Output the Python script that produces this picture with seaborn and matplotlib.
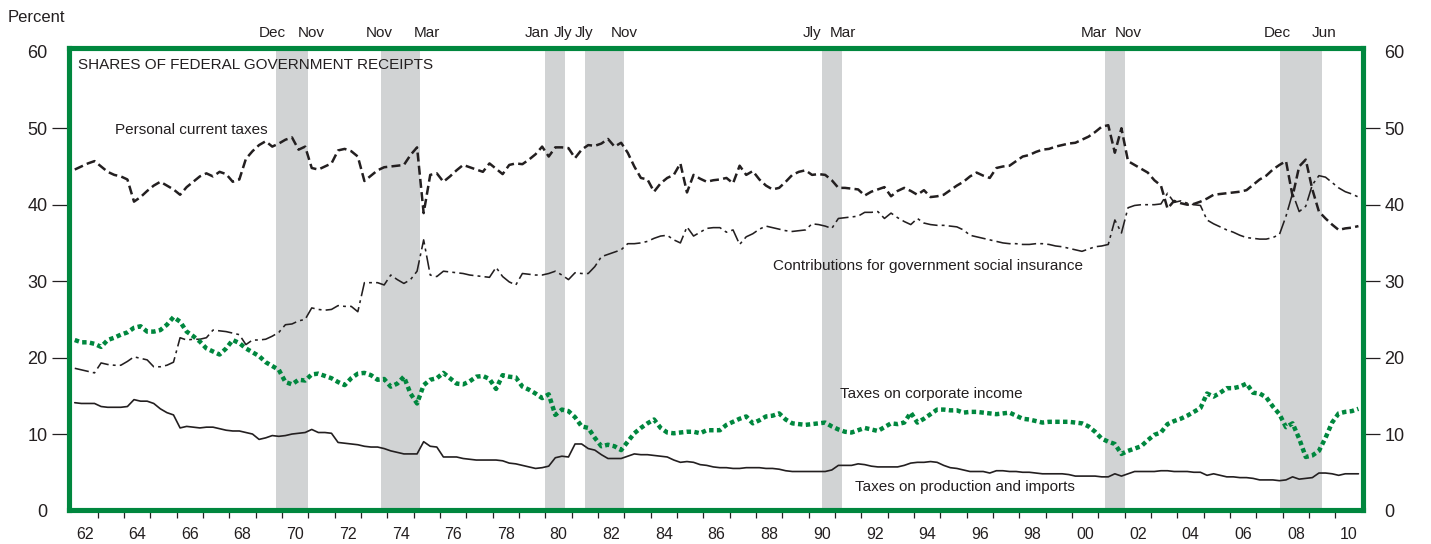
import numpy as np
import pandas as pd
import matplotlib
matplotlib.use("Agg")
import matplotlib.pyplot as plt
import matplotlib.transforms as mtransforms
import seaborn as sns

# ---------------- data (quarterly, 1962Q1 - 2010Q4, percent) ----------------
personal = [
    44.6, 45.0, 45.4, 45.7,  45.0, 44.3, 43.9, 43.7,   # 62, 63
    43.3, 40.4, 41.0, 41.8,  42.5, 43.0, 42.5, 42.0,   # 64, 65
    41.3, 42.3, 43.0, 43.7,  44.1, 43.7, 44.3, 44.0,   # 66, 67
    43.0, 43.3, 46.0, 47.0,  47.8, 48.3, 47.6, 48.0,   # 68, 69
    48.5, 48.8, 47.2, 47.6,  44.8, 44.6, 45.0, 45.4,   # 70, 71
    47.1, 47.3, 47.0, 46.3,  43.1, 43.8, 44.5, 44.9,   # 72, 73
    45.0, 45.1, 45.2, 46.5,  47.5, 38.9, 43.9, 44.1,   # 74, 75
    43.0, 43.7, 44.5, 45.2,  44.9, 44.6, 44.3, 45.4,   # 76, 77
    44.7, 44.0, 45.2, 45.4,  45.3, 45.9, 46.6, 47.6,   # 78, 79
    46.3, 47.5, 47.5, 47.4,  46.1, 47.2, 47.8, 47.7,   # 80, 81
    48.0, 48.6, 47.6, 48.1,  46.8, 45.0, 43.5, 43.3,   # 82, 83
    41.7, 42.8, 43.5, 43.9,  45.4, 41.6, 43.9, 43.4,   # 84, 85
    43.0, 43.2, 43.3, 43.5,  42.8, 45.1, 43.9, 44.4,   # 86, 87
    43.3, 42.5, 42.0, 42.2,  43.0, 43.9, 44.3, 44.5,   # 88, 89
    43.9, 44.0, 43.9, 43.2,  42.2, 42.2, 42.1, 42.0,   # 90, 91
    41.2, 41.7, 42.0, 42.3,  41.1, 41.8, 42.2, 41.8,   # 92, 93
    41.3, 41.9, 41.0, 41.1,  41.3, 41.9, 42.5, 43.0,   # 94, 95
    43.7, 44.2, 43.8, 43.5,  44.8, 45.0, 45.1, 45.7,   # 96, 97
    46.3, 46.5, 46.9, 47.2,  47.3, 47.6, 47.8, 48.0,   # 98, 99
    48.1, 48.5, 48.9, 49.5,  50.2, 50.4, 46.8, 50.0,   # 00, 01
    45.7, 45.2, 44.7, 44.2,  43.2, 42.5, 39.5, 40.5,   # 02, 03
    40.2, 40.0, 40.1, 40.4,  40.8, 41.3, 41.4, 41.5,   # 04, 05
    41.6, 41.7, 41.9, 42.6,  43.3, 43.8, 44.6, 45.2,   # 06, 07
    45.7, 41.1, 45.0, 45.9,  42.0, 39.1, 38.2, 37.4,   # 08, 09
    36.7, 36.9, 37.0, 37.2,                            # 10
]

social_insurance = [
    18.6, 18.4, 18.2, 18.0,  19.3, 19.1, 19.0, 19.0,
    19.5, 20.1, 19.9, 19.7,  18.8, 18.8, 19.0, 19.4,
    22.6, 22.3, 22.4, 22.4,  22.6, 23.6, 23.5, 23.4,
    23.2, 23.0, 21.7, 22.3,  22.3, 22.4, 22.8, 23.3,
    24.3, 24.4, 24.8, 25.0,  26.5, 26.3, 26.2, 26.3,
    26.8, 26.7, 26.7, 26.0,  29.8, 29.8, 29.8, 29.5,
    30.8, 30.2, 29.7, 30.2,  31.3, 35.4, 30.8, 30.6,
    31.3, 31.2, 31.1, 31.0,  30.8, 30.7, 30.6, 30.5,
    31.8, 30.6, 29.9, 29.5,  31.0, 30.9, 30.8, 30.8,
    31.0, 31.3, 30.8, 30.2,  31.1, 31.0, 31.0, 31.9,
    33.2, 33.5, 33.8, 34.1,  34.9, 34.9, 35.0, 35.2,
    35.6, 35.9, 36.0, 35.4,  35.0, 37.1, 35.9, 36.4,
    36.9, 37.0, 37.0, 36.4,  36.7, 34.8, 35.8, 36.2,
    36.8, 37.2, 37.0, 36.8,  36.6, 36.5, 36.6, 36.7,
    37.5, 37.4, 37.2, 36.9,  38.2, 38.3, 38.4, 38.5,
    39.0, 39.0, 39.1, 38.2,  38.9, 38.3, 37.8, 37.4,
    38.2, 37.6, 37.4, 37.3,  37.3, 37.2, 37.1, 36.7,
    36.0, 35.8, 35.6, 35.4,  35.2, 35.0, 34.9, 34.9,
    34.8, 34.8, 34.9, 34.9,  34.8, 34.6, 34.5, 34.3,
    34.1, 33.9, 34.2, 34.5,  34.6, 34.8, 38.0, 36.3,
    39.6, 39.9, 40.0, 40.0,  40.0, 40.1, 41.5, 40.3,
    40.5, 40.2, 40.0, 39.9,  38.0, 37.5, 37.1, 36.7,
    36.4, 36.0, 35.7, 35.6,  35.5, 35.5, 35.7, 36.1,
    38.5, 41.5, 39.1, 39.8,  42.6, 43.8, 43.6, 42.9,
    42.2, 41.7, 41.4, 41.0,
]

corporate = [
    22.3, 22.0, 22.0, 21.8,  21.4, 22.3, 22.6, 23.0,
    23.3, 23.9, 24.1, 23.4,  23.4, 23.6, 24.3, 25.3,
    24.7, 23.4, 22.8, 22.1,  21.2, 20.8, 20.4, 21.2,
    22.3, 21.9, 21.2, 20.7,  20.2, 19.4, 18.9, 18.4,
    16.8, 16.5, 17.1, 17.0,  17.8, 17.9, 17.6, 17.3,
    16.8, 16.4, 17.3, 17.9,  18.0, 17.7, 17.1, 17.2,
    16.2, 16.6, 17.5, 15.3,  14.0, 16.4, 17.1, 17.3,
    18.0, 17.3, 16.6, 16.5,  16.9, 17.5, 17.6, 17.2,
    15.9, 17.7, 17.5, 17.4,  16.2, 15.8, 15.3, 14.7,
    15.2, 12.5, 13.2, 13.0,  12.2, 11.0, 10.8, 9.5,
    8.4, 8.6, 8.4, 7.9,      9.0, 10.1, 10.8, 11.4,
    11.9, 10.8, 10.2, 10.1,  10.2, 10.3, 10.3, 10.1,
    10.5, 10.5, 10.5, 11.2,  11.6, 12.0, 12.3, 11.4,
    11.8, 12.3, 12.4, 12.7,  11.9, 11.4, 11.3, 11.2,
    11.3, 11.4, 11.5, 11.0,  10.6, 10.3, 10.2, 10.5,
    10.8, 10.6, 10.4, 10.9,  11.4, 11.3, 11.5, 12.8,
    11.5, 12.0, 12.6, 13.2,  13.2, 13.1, 13.1, 12.8,
    12.9, 12.9, 12.8, 12.7,  12.6, 12.7, 12.8, 12.4,
    12.0, 11.9, 11.7, 11.5,  11.6, 11.6, 11.6, 11.6,
    11.5, 11.4, 11.0, 10.3,  9.4, 9.0, 8.7, 7.4,
    7.8, 8.1, 8.4, 9.2,      9.9, 10.2, 11.3, 11.7,
    12.0, 12.4, 12.9, 13.4,  15.3, 14.9, 15.4, 16.0,
    16.0, 16.2, 16.6, 15.4,  15.3, 14.8, 13.6, 12.6,
    10.9, 11.4, 9.4, 7.0,    7.2, 7.8, 9.5, 11.5,
    12.7, 12.9, 13.0, 13.3,
]

production = [
    14.1, 14.0, 14.0, 14.0,  13.6, 13.5, 13.5, 13.5,
    13.6, 14.5, 14.3, 14.3,  14.0, 13.3, 12.8, 12.5,
    10.8, 11.0, 10.9, 10.8,  10.9, 10.9, 10.7, 10.5,
    10.4, 10.4, 10.2, 10.0,  9.3, 9.5, 9.8, 9.7,
    9.8, 10.0, 10.1, 10.2,   10.6, 10.2, 10.2, 10.1,
    8.9, 8.8, 8.7, 8.6,      8.4, 8.3, 8.3, 8.1,
    7.8, 7.6, 7.4, 7.4,      7.4, 9.0, 8.4, 8.3,
    7.0, 7.0, 7.0, 6.8,      6.7, 6.6, 6.6, 6.6,
    6.6, 6.5, 6.2, 6.1,      5.9, 5.7, 5.5, 5.6,
    5.8, 6.9, 7.1, 7.0,      8.7, 8.7, 8.1, 7.9,
    7.3, 6.8, 6.8, 6.8,      7.1, 7.4, 7.3, 7.3,
    7.2, 7.1, 7.0, 6.6,      6.3, 6.4, 6.3, 6.0,
    5.9, 5.7, 5.6, 5.6,      5.5, 5.5, 5.6, 5.6,
    5.6, 5.5, 5.5, 5.4,      5.2, 5.1, 5.1, 5.1,
    5.1, 5.1, 5.1, 5.3,      5.9, 5.9, 5.9, 6.1,
    6.0, 5.8, 5.7, 5.7,      5.7, 5.7, 5.9, 6.2,
    6.3, 6.3, 6.4, 6.3,      5.9, 5.6, 5.5, 5.3,
    5.1, 5.1, 5.1, 4.9,      5.2, 5.2, 5.1, 5.1,
    5.0, 5.0, 4.9, 4.8,      4.8, 4.8, 4.8, 4.7,
    4.5, 4.5, 4.5, 4.5,      4.4, 4.4, 4.8, 4.5,
    4.8, 5.1, 5.1, 5.1,      5.1, 5.2, 5.2, 5.1,
    5.1, 5.1, 5.0, 5.0,      4.6, 4.8, 4.6, 4.4,
    4.4, 4.3, 4.3, 4.2,      4.0, 4.0, 4.0, 3.9,
    4.0, 4.4, 4.1, 4.2,      4.3, 4.9, 4.9, 4.8,
    4.6, 4.8, 4.8, 4.8,
]

# recessions: start, end (fractional years) and the month labels above the frame
recession_start = [1969.75, 1973.75, 1980.0, 1981.5, 1990.5, 2001.25, 2007.9]
recession_end = [1971.0, 1975.25, 1980.75, 1983.0, 1991.25, 2002.0, 2009.5]
recession_labels = ["Dec", "Nov", "Nov", "Mar", "Jan", "Jly", "Jly", "Nov",
                    "Jly", "Mar", "Mar", "Nov", "Dec", "Jun"]
recession_label_x = [1969.64, 1971.12, 1973.69, 1975.50, 1979.69, 1980.65,
                     1981.48, 1982.98, 1990.12, 1991.29, 2000.83, 2002.14,
                     2007.80, 2009.58]

y_ticks = [0, 10, 20, 30, 40, 50, 60]
x_label_years = list(range(1962, 2011, 2))
x_tick_labels = [f"{y % 100:02d}" for y in x_label_years]

# ---------------- styling ----------------
GREEN = "#00873E"
GRAY = "#D1D3D4"
INK = "#231F20"

sns.set_theme(style="white")
plt.rcParams["font.family"] = ["Liberation Sans", "DejaVu Sans"]
plt.rcParams["text.color"] = INK

n = len(personal)
quarters = 1962.125 + 0.25 * np.arange(n)
df = pd.DataFrame({
    "t": quarters,
    "personal": personal,
    "social": social_insurance,
    "corporate": corporate,
    "production": production,
})

fig = plt.figure(figsize=(14.31, 5.44), dpi=100)
ax = fig.add_axes([0.0481, 0.0616, 0.9044, 0.8502])

for s, e in zip(recession_start, recession_end):
    ax.axvspan(s, e, color=GRAY, lw=0, zorder=0.5)

sns.lineplot(data=df, x="t", y="production", ax=ax, color=INK, lw=1.2,
             errorbar=None, zorder=3)
sns.lineplot(data=df, x="t", y="social", ax=ax, color=INK, lw=1.15,
             linestyle=(0, (9, 2.6, 1.8, 2.6)), errorbar=None, zorder=3)
sns.lineplot(data=df, x="t", y="personal", ax=ax, color=INK, lw=1.8,
             linestyle=(0, (3.6, 1.7)), errorbar=None, zorder=3)
sns.lineplot(data=df, x="t", y="corporate", ax=ax, color=GREEN, lw=3.2,
             linestyle=(0, (1.0, 0.75)), errorbar=None, zorder=3)

ax.set_xlim(1961.9, 2011.05)
ax.set_ylim(0, 60.5)
ax.set_xlabel("")
ax.set_ylabel("")

for sp in ax.spines.values():
    sp.set_visible(True)
    sp.set_color(GREEN)
    sp.set_linewidth(3.7)
    sp.set_zorder(4)

# y ticks on both sides, tick marks only at 10..50
ax.set_yticks(y_ticks)
ax.set_yticklabels([str(v) for v in y_ticks])
ax.tick_params(axis="y", which="major", left=True, right=True, labelleft=True,
               labelright=True, direction="out", length=12, width=0.9,
               color=INK, labelsize=13, labelcolor=INK, pad=3.5)
for tk, v in zip(ax.yaxis.get_major_ticks(), y_ticks):
    if v in (0, 60):
        tk.tick1line.set_visible(False)
        tk.tick2line.set_visible(False)

# x: tick marks at every year boundary, labels centred on even years
ax.set_xticks(np.arange(1963, 2011))
ax.set_xticklabels([])
ax.set_xticks([y + 0.5 for y in x_label_years], minor=True)
ax.set_xticklabels(x_tick_labels, minor=True)
ax.tick_params(axis="x", which="major", bottom=True, direction="out",
               length=6, width=0.9, color=INK)
ax.tick_params(axis="x", which="minor", bottom=True, length=0,
               labelsize=11.5, labelcolor=INK, pad=12)

# texts
fig.text(8 / 1431, 1 - 17 / 544, "Percent", fontsize=12, color=INK,
         ha="left", va="center")
ax.text(1962.25, 58.3, "SHARES OF FEDERAL GOVERNMENT RECEIPTS", fontsize=11,
        ha="left", va="center", color=INK)
ax.text(1963.66, 49.8, "Personal current taxes", fontsize=11, ha="left",
        va="center", color=INK)
ax.text(1988.63, 32.0, "Contributions for government social insurance",
        fontsize=11, ha="left", va="center", color=INK)
ax.text(1991.19, 15.3, "Taxes on corporate income", fontsize=11, ha="left",
        va="center", color=INK)
ax.text(1991.76, 3.1, "Taxes on production and imports", fontsize=11,
        ha="left", va="center", color=INK)

trans = mtransforms.blended_transform_factory(ax.transData, fig.transFigure)
for lab, xpos in zip(recession_labels, recession_label_x):
    ax.text(xpos, 1 - 33 / 544, lab, transform=trans, fontsize=11,
            ha="center", va="center", color=INK, clip_on=False)

fig.savefig("out.png", dpi=100)
